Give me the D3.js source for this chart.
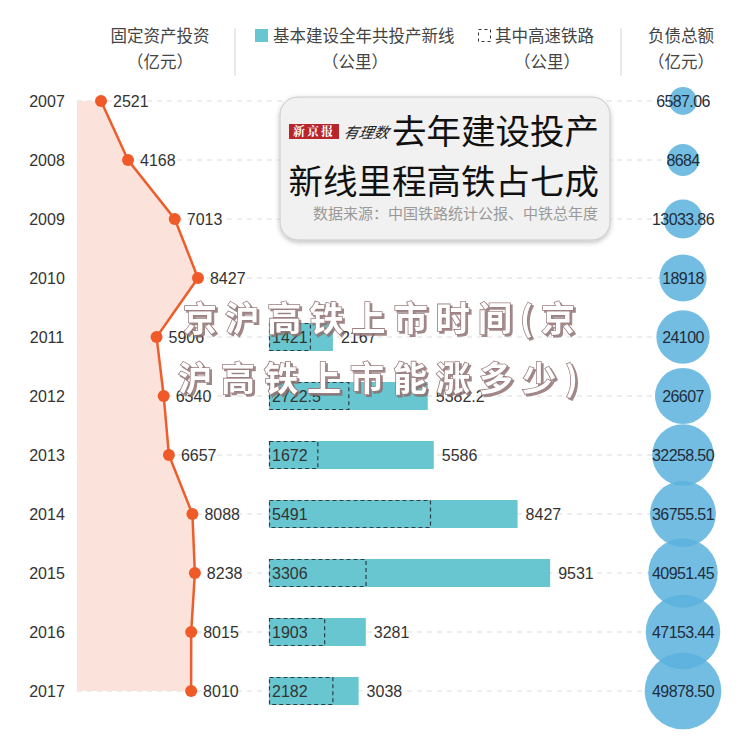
<!DOCTYPE html>
<html><head><meta charset="utf-8">
<script src="https://cdn.jsdelivr.net/npm/d3@7/dist/d3.min.js"></script>
<style>body{margin:0;background:#fff}svg{display:block}</style>
</head><body>
<svg id="c" width="750" height="741"></svg>
<script>
const years = ["2007","2008","2009","2010","2011","2012","2013","2014","2015","2016","2017"];
const investment = [2521,4168,7013,8427,5906,6340,6657,8088,8238,8015,8010];
const investLabels = ["2521","4168","7013","8427","5906","6340","6657","8088","8238","8015","8010"];
const newLine = [null,null,null,null,2167,5382.2,5586,8427,9531,3281,3038];
const newLineLabels = ["","","","","2167","5382.2","5586","8427","9531","3281","3038"];
const highSpeed = [null,null,null,null,1421,2722.5,1672,5491,3306,1903,2182];
const highSpeedLabels = ["","","","","1421","2722.5","1672","5491","3306","1903","2182"];
const debt = [6587.06,8684,13033.86,18918,24100,26607,32258.50,36755.51,40951.45,47153.44,49878.50];
const debtLabels = ["6587.06","8684","13033.86","18918","24100","26607","32258.50","36755.51","40951.45","47153.44","49878.50"];

const svg = d3.select("#c");
const CJK = "'Noto Sans CJK SC','Noto Sans',sans-serif";
const NUM = "'Liberation Sans',Arial,sans-serif";

const y = d3.scalePoint().domain(years).range([101, 691]);
const xInv = d3.scaleLinear().domain([0, 10000]).range([59.6, 223.8]);
const xBar = d3.scaleLinear().domain([0, 10000]).range([269, 564]);
const r = d3.scaleSqrt().domain([0, 50000]).range([0, 38.4]);

const defs = svg.append("defs");
const f = defs.append("filter").attr("id","sh").attr("x","-10%").attr("y","-10%").attr("width","120%").attr("height","130%");
f.append("feDropShadow").attr("dx",0).attr("dy",2).attr("stdDeviation",2.5).attr("flood-color","#000").attr("flood-opacity",0.25);
const f2 = defs.append("filter").attr("id","wm").attr("x","-5%").attr("y","-20%").attr("width","110%").attr("height","140%");
f2.append("feDropShadow").attr("dx",2).attr("dy",2).attr("stdDeviation",0.6).attr("flood-color","#8a6a6a").attr("flood-opacity",0.8);

// header
const hdr = svg.append("g").attr("font-family", CJK).attr("font-size", 16.5).attr("fill", "#444");
hdr.append("text").attr("x",160).attr("y",42).attr("text-anchor","middle").text("固定资产投资");
hdr.append("text").attr("x",160).attr("y",68).attr("text-anchor","middle").text("（亿元）");
hdr.append("rect").attr("x",255).attr("y",29).attr("width",13).attr("height",13).attr("fill","#68c6d0");
hdr.append("text").attr("x",273).attr("y",42).text("基本建设全年共投产新线");
hdr.append("text").attr("x",355).attr("y",68).attr("text-anchor","middle").text("（公里）");
hdr.append("rect").attr("x",478.5).attr("y",29.5).attr("width",12).attr("height",12).attr("fill","none").attr("stroke","#333").attr("stroke-width",1).attr("stroke-dasharray","3,3");
hdr.append("text").attr("x",495).attr("y",42).text("其中高速铁路");
hdr.append("text").attr("x",547).attr("y",68).attr("text-anchor","middle").text("（公里）");
hdr.append("text").attr("x",681).attr("y",42).attr("text-anchor","middle").text("负债总额");
hdr.append("text").attr("x",681).attr("y",68).attr("text-anchor","middle").text("（亿元）");
svg.append("line").attr("x1",235).attr("x2",235).attr("y1",28).attr("y2",76).attr("stroke","#e2e2e2").attr("stroke-width",1.5);
svg.append("line").attr("x1",621).attr("x2",621).attr("y1",28).attr("y2",76).attr("stroke","#e2e2e2").attr("stroke-width",1.5);

// grid lines
svg.append("g").selectAll("line").data(years).join("line")
  .attr("x1",77).attr("x2",662).attr("y1",d=>y(d)).attr("y2",d=>y(d))
  .attr("stroke","#dcdcdc").attr("stroke-width",1.2).attr("stroke-dasharray","5,5");

// year labels
svg.append("g").selectAll("text").data(years).join("text")
  .attr("x",47).attr("y",d=>y(d)+5.5).attr("text-anchor","middle")
  .attr("font-family",NUM).attr("font-size",16).attr("fill","#333").text(d=>d);

// area + line
const pts = years.map((d,i)=>({y:d, v:investment[i], l:investLabels[i]}));
svg.append("path").datum(pts)
  .attr("d", d3.area().y(d=>y(d.y)).x0(77).x1(d=>xInv(d.v)))
  .attr("fill","#fbe0d7").attr("opacity",0.9);
svg.append("path").datum(pts)
  .attr("d", d3.line().y(d=>y(d.y)).x(d=>xInv(d.v)))
  .attr("fill","none").attr("stroke","#ee5e2c").attr("stroke-width",2.5);
svg.append("g").selectAll("circle").data(pts).join("circle")
  .attr("cx",d=>xInv(d.v)).attr("cy",d=>y(d.y)).attr("r",6).attr("fill","#f05a28");
svg.append("g").selectAll("text").data(pts).join("text")
  .attr("x",d=>xInv(d.v)+12).attr("y",d=>y(d.y)+5.5)
  .attr("font-family",NUM).attr("font-size",16).attr("fill","#333").text(d=>d.l);

// bars
const bars = years.map((d,i)=>({y:d, t:newLine[i], tl:newLineLabels[i], h:highSpeed[i], hl:highSpeedLabels[i]})).filter(d=>d.t!=null);
const bh = 28;
svg.append("g").selectAll("rect").data(bars).join("rect")
  .attr("x",xBar(0)).attr("y",d=>y(d.y)-bh/2).attr("width",d=>xBar(d.t)-xBar(0)).attr("height",bh)
  .attr("fill","#68c6d0");
svg.append("g").selectAll("rect").data(bars).join("rect")
  .attr("x",xBar(0)+0.5).attr("y",d=>y(d.y)-bh/2+0.5).attr("width",d=>xBar(d.h)-xBar(0)-1).attr("height",bh-1)
  .attr("fill","none").attr("stroke","#2d3e44").attr("stroke-width",1.2).attr("stroke-dasharray","4,3");
svg.append("g").selectAll("text").data(bars).join("text")
  .attr("x",xBar(0)+3).attr("y",d=>y(d.y)+5.5)
  .attr("font-family",NUM).attr("font-size",16).attr("fill","#333").text(d=>d.hl);
svg.append("g").selectAll("text").data(bars).join("text")
  .attr("x",d=>xBar(d.t)+8).attr("y",d=>y(d.y)+5.5)
  .attr("font-family",NUM).attr("font-size",16).attr("fill","#333").text(d=>d.tl);

// bubbles
const bub = years.map((d,i)=>({y:d, v:debt[i], l:debtLabels[i]}));
svg.append("g").selectAll("circle").data(bub).join("circle")
  .attr("cx",683).attr("cy",d=>y(d.y)).attr("r",d=>r(d.v))
  .attr("fill","#5ab2de").attr("fill-opacity",0.85);
svg.append("g").selectAll("text").data(bub).join("text")
  .attr("x",683).attr("y",d=>y(d.y)+5.5).attr("text-anchor","middle")
  .attr("font-family",NUM).attr("font-size",16).attr("fill","#1f2d3a").attr("letter-spacing",-0.6).text(d=>d.l);

// title box
const tb = svg.append("g");
tb.append("rect").attr("x",280).attr("y",97).attr("width",330).attr("height",143).attr("rx",18)
  .attr("fill","#f1f1f1").attr("stroke","#c8c8c8").attr("stroke-width",1).attr("filter","url(#sh)");
tb.append("rect").attr("x",289).attr("y",124).attr("width",50).attr("height",15).attr("fill","#b8262b");
tb.append("text").attr("x",314).attr("y",136).attr("text-anchor","middle").attr("font-family","'Noto Serif CJK SC','Noto Sans CJK SC',serif")
  .attr("font-weight",700).attr("font-size",12).attr("fill","#fff").attr("letter-spacing",2).text("新京报");
tb.append("text").attr("x",343).attr("y",138).attr("font-family",CJK).attr("font-style","italic")
  .attr("font-size",15).attr("fill","#222").attr("transform","skewX(-12)").attr("dx",29).text("有理数");
tb.append("text").attr("x",599).attr("y",144).attr("text-anchor","end").attr("font-family",CJK)
  .attr("font-size",34.5).attr("fill","#111").text("去年建设投产");
tb.append("text").attr("x",599).attr("y",194).attr("text-anchor","end").attr("font-family",CJK)
  .attr("font-size",34.5).attr("fill","#111").text("新线里程高铁占七成");
tb.append("text").attr("x",598).attr("y",219).attr("text-anchor","end").attr("font-family",CJK)
  .attr("font-size",15).attr("fill","#999").text("数据来源：中国铁路统计公报、中铁总年度");

// watermark
const wm = svg.append("g").attr("font-family",CJK).attr("font-weight",700).attr("font-size",34)
  .attr("fill","#fff").attr("stroke","#9c7f80").attr("stroke-width",1.6).attr("paint-order","stroke")
  .attr("filter","url(#wm)");
wm.append("text").attr("x",183).attr("y",331).attr("textLength",392).attr("lengthAdjust","spacing").text("京沪高铁上市时间(京");
wm.append("text").attr("x",178).attr("y",391).attr("textLength",400).attr("lengthAdjust","spacing").text("沪高铁上市能涨多少)");
</script>
</body></html>
